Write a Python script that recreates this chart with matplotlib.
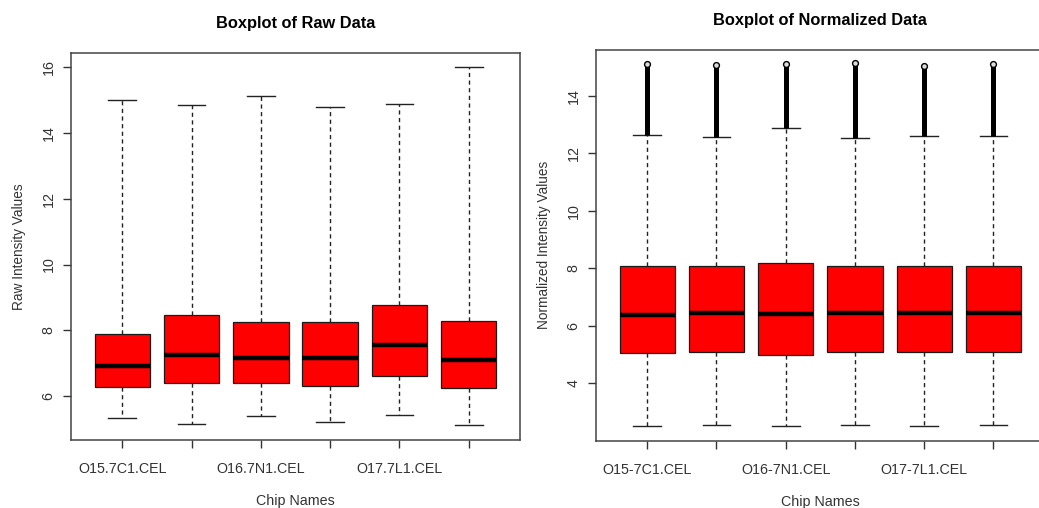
import matplotlib
matplotlib.use("Agg")
import matplotlib.pyplot as plt

plt.rcParams['font.family'] = ['Liberation Sans', 'DejaVu Sans']

# chips, only every other name fits under the axis
chip_labels_raw = ['O15.7C1.CEL', '', 'O16.7N1.CEL', '', 'O17.7L1.CEL', '']
chip_labels_norm = ['O15-7C1.CEL', '', 'O16-7N1.CEL', '', 'O17-7L1.CEL', '']

# raw intensity summary (log2)
raw_q1 = [6.27, 6.39, 6.40, 6.32, 6.61, 6.26]
raw_med = [6.91, 7.25, 7.15, 7.16, 7.55, 7.11]
raw_q3 = [7.90, 8.47, 8.24, 8.24, 8.77, 8.27]
raw_lo = [5.32, 5.16, 5.39, 5.22, 5.43, 5.13]
raw_hi = [15.01, 14.86, 15.13, 14.79, 14.89, 16.00]

# normalized intensity summary
norm_q1 = [5.04, 5.08, 5.00, 5.08, 5.08, 5.08]
norm_med = [6.39, 6.46, 6.42, 6.46, 6.43, 6.43]
norm_q3 = [8.09, 8.09, 8.17, 8.07, 8.09, 8.09]
norm_lo = [2.52, 2.56, 2.52, 2.56, 2.52, 2.56]
norm_hi = [12.63, 12.56, 12.90, 12.53, 12.62, 12.59]
norm_out_max = [15.10, 15.08, 15.10, 15.15, 15.04, 15.10]


def make_stats(q1, med, q3, lo, hi):
    return [dict(q1=a, med=b, q3=c, whislo=d, whishi=e, fliers=[])
            for a, b, c, d, e in zip(q1, med, q3, lo, hi)]


def draw_box(ax, stats, labels, title, ylabel, yticks, ylim):
    pos = list(range(1, len(stats) + 1))
    ax.bxp(stats, positions=pos, widths=0.8, capwidths=0.4,
           patch_artist=True, showfliers=False,
           boxprops=dict(facecolor='#ff0000', edgecolor='#1a1a1a', linewidth=0.9),
           medianprops=dict(color='black', linewidth=3.2),
           whiskerprops=dict(color='#222222', linewidth=1.0, linestyle=(0, (3, 2.5))),
           capprops=dict(color='#222222', linewidth=1.0))
    ax.set_xlim(0.26, 6.74)
    ax.set_ylim(*ylim)
    ax.set_xticks(pos)
    ax.set_xticklabels(labels)
    ax.set_yticks(yticks)
    ax.tick_params(axis='both', length=6, width=1.0, color='#333333',
                   labelsize=10.3, labelcolor='#333333')
    ax.tick_params(axis='x', pad=10)
    ax.tick_params(axis='y', labelrotation=90, pad=5)
    for t in ax.get_yticklabels():
        t.set_va('center')
    for s in ax.spines.values():
        s.set_color('#444444')
        s.set_linewidth(1.1)
    ax.set_title(title, fontsize=11.8, fontweight='bold', pad=18)
    ax.set_xlabel('Chip Names', fontsize=10.3, color='#333333', labelpad=13)
    ax.set_ylabel(ylabel, fontsize=9.8, color='#333333', labelpad=11)
    return pos


fig = plt.figure(figsize=(10.39, 5.08), dpi=100)
ax1 = fig.add_axes([0.0683, 0.1348, 0.4322, 0.7602])
ax2 = fig.add_axes([0.5736, 0.1325, 0.4319, 0.769])

draw_box(ax1, make_stats(raw_q1, raw_med, raw_q3, raw_lo, raw_hi),
         chip_labels_raw, 'Boxplot of Raw Data', 'Raw Intensity Values',
         [6, 8, 10, 12, 14, 16], (4.68, 16.42))

pos = draw_box(ax2, make_stats(norm_q1, norm_med, norm_q3, norm_lo, norm_hi),
               chip_labels_norm, 'Boxplot of Normalized Data',
               'Normalized Intensity Values', [4, 6, 8, 10, 12, 14], (2.0, 15.6))

# the outliers above the upper whisker overlap into a solid column
ax2.vlines(pos, norm_hi, norm_out_max, color='black', linewidth=3.6, zorder=3)
ax2.plot(pos, norm_out_max, 'o', markersize=4.2, markerfacecolor='#dddddd',
         markeredgecolor='black', markeredgewidth=1.0, zorder=4)

fig.savefig('out.png', dpi=100)
